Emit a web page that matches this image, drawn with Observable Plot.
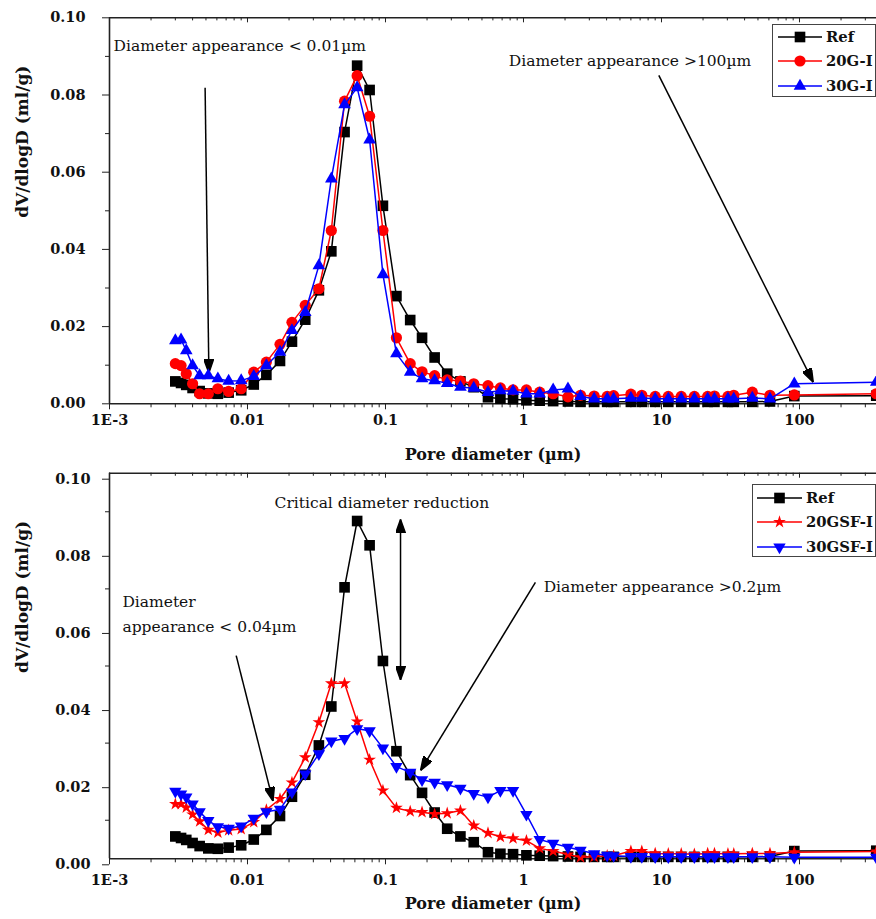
<!DOCTYPE html>
<html><head><meta charset="utf-8">
<script src="https://cdn.jsdelivr.net/npm/d3@7"></script>
<script src="https://cdn.jsdelivr.net/npm/@observablehq/plot@0.6"></script>
<style>
html,body{margin:0;padding:0;background:#fff;}
#page{position:relative;width:876px;height:919px;overflow:hidden;background:#fff;}
.chart{position:absolute;left:0;}
.chart svg{overflow:visible;}
.legend{position:absolute;border:1px solid #444;background:#fff;box-sizing:border-box;}
.legend svg{display:block;overflow:visible;}
</style></head>
<body><div id="page"></div>
<script>
// ---------- data ----------
const diameters = [0.0030,0.0033,0.0036,0.0040,0.0045,0.0052,0.0061,0.0073,0.0090,0.0111,0.0137,0.0172,0.0210,0.0262,0.0329,0.0405,0.0505,0.0623,0.0767,0.0958,0.120,0.151,0.184,0.227,0.280,0.349,0.436,0.553,0.680,0.840,1.05,1.31,1.64,2.10,2.59,3.25,4.04,4.50,6.00,7.20,9.00,11.2,13.9,17.3,21.6,24.2,30.3,33.4,45.5,61.1,91.7,360];
const ref   = [0.0058,0.0054,0.0049,0.0041,0.0033,0.0027,0.0026,0.0029,0.0035,0.0050,0.0075,0.0111,0.0161,0.0218,0.0294,0.0395,0.0704,0.0876,0.0813,0.0513,0.0279,0.0217,0.0171,0.0120,0.0078,0.0058,0.0043,0.0017,0.0013,0.0012,0.0009,0.0008,0.0007,0.0006,0.0005,0.0005,0.0005,0.0005,0.0005,0.0005,0.0005,0.0005,0.0005,0.0005,0.0005,0.0005,0.0005,0.0005,0.0005,0.0006,0.0020,0.0021];
const g20   = [0.0104,0.0099,0.0078,0.0052,0.0026,0.0026,0.0039,0.0032,0.0039,0.0082,0.0108,0.0154,0.0211,0.0255,0.0298,0.0449,0.0784,0.0850,0.0745,0.0449,0.0171,0.0104,0.0083,0.0073,0.0062,0.0059,0.0052,0.0047,0.0041,0.0036,0.0036,0.0030,0.0026,0.0018,0.0022,0.0020,0.0019,0.0021,0.0025,0.0022,0.0019,0.0019,0.0019,0.0019,0.0019,0.0020,0.0019,0.0022,0.0030,0.0022,0.0023,0.0026];
const g30   = [0.0164,0.0166,0.0138,0.0099,0.0073,0.0073,0.0065,0.0059,0.0060,0.0071,0.0099,0.0134,0.0190,0.0237,0.0358,0.0583,0.0775,0.0819,0.0684,0.0335,0.0130,0.0082,0.0065,0.0060,0.0053,0.0043,0.0041,0.0030,0.0034,0.0033,0.0026,0.0026,0.0036,0.0039,0.0019,0.0013,0.0013,0.0013,0.0015,0.0015,0.0013,0.0013,0.0013,0.0013,0.0013,0.0013,0.0013,0.0013,0.0015,0.0013,0.0052,0.0056];
const gsf20 = [0.0142,0.0142,0.0133,0.0115,0.0097,0.0075,0.0068,0.0074,0.0077,0.0095,0.0127,0.0155,0.0198,0.0263,0.0354,0.0455,0.0455,0.0356,0.0257,0.0177,0.0132,0.0123,0.0121,0.0116,0.0118,0.0125,0.0086,0.0067,0.0057,0.0053,0.0047,0.0027,0.0020,0.0011,0.0004,0.0005,0.0008,0.0008,0.0020,0.0020,0.0014,0.0013,0.0013,0.0012,0.0014,0.0014,0.0013,0.0013,0.0014,0.0014,0.0017,0.0019];
const gsf30 = [0.0175,0.0168,0.0160,0.0142,0.0122,0.0099,0.0083,0.0079,0.0085,0.0105,0.0122,0.0128,0.0173,0.0220,0.0272,0.0305,0.0312,0.0337,0.0332,0.0287,0.0239,0.0224,0.0205,0.0198,0.0192,0.0183,0.0169,0.0160,0.0177,0.0177,0.0115,0.0050,0.0040,0.0030,0.0022,0.0013,0.0009,0.0008,0.0006,0.0006,0.0005,0.0005,0.0005,0.0005,0.0005,0.0005,0.0005,0.0005,0.0005,0.0005,0.0004,0.0004];

const topNames = ["Ref", "20G-I", "30G-I"];
const bottomNames = ["Ref", "20GSF-I", "30GSF-I"];

const xMajor = [0.001, 0.01, 0.1, 1, 10, 100];
const xTickLabels = ["1E-3", "0.01", "0.1", "1", "10", "100"];
const yMajor = [0, 0.02, 0.04, 0.06, 0.08, 0.10];
const yTickLabels = ["0.00", "0.02", "0.04", "0.06", "0.08", "0.10"];
const yMinor = [0.01, 0.03, 0.05, 0.07, 0.09];
const xMinor = xMajor.flatMap(p => [2,3,4,5,6,7,8,9].map(k => k * p)).filter(v => v < 361);

const xTitle = "Pore diameter (µm)";
const yTitle = "dV/dlogD (ml/g)";

const topNotes = [
  {label: "Diameter appearance < 0.01µm", x: 0.00107, y: 0.0926},
  {label: "Diameter appearance >100µm", x: 0.782, y: 0.0889}
];
const topArrows = [
  {x1: 0.00493, y1: 0.0819, x2: 0.00525, y2: 0.0080},
  {x1: 9.56, y1: 0.0851, x2: 125.7, y2: 0.0056}
];
const bottomNotes = [
  {label: "Critical diameter reduction", x: 0.0157, y: 0.0922},
  {label: "Diameter", x: 0.00124, y: 0.0667},
  {label: "appearance < 0.04µm", x: 0.00124, y: 0.0600},
  {label: "Diameter appearance >0.2µm", x: 1.40, y: 0.0705}
];
const bottomArrows = [
  {x1: 0.00828, y1: 0.0527, x2: 0.0153, y2: 0.0150},
  {x1: 1.22, y1: 0.0717, x2: 0.1795, y2: 0.0229}
];
const bottomDoubleArrows = [
  {x1: 0.1285, y1: 0.0880, x2: 0.1285, y2: 0.0464}
];

// ---------- helpers ----------
const FONT = "'DejaVu Serif', serif";
const AXIS = "#222";
const xDomain = [0.001, 361.4];
const yDomain = [0, 0.1];

const triangleDown = {
  draw(context, size) {
    const y = -Math.sqrt(size / (Math.sqrt(3) * 3));
    context.moveTo(0, -y * 2);
    context.lineTo(-Math.sqrt(3) * y, y);
    context.lineTo(Math.sqrt(3) * y, y);
    context.closePath();
  }
};

function filledArrow(color, context) {
  const ns = "http://www.w3.org/2000/svg";
  const doc = (context && context.document) || document;
  const m = doc.createElementNS(ns, "marker");
  m.setAttribute("viewBox", "-14 -5 14 10");
  m.setAttribute("markerWidth", 14);
  m.setAttribute("markerHeight", 10);
  m.setAttribute("markerUnits", "userSpaceOnUse");
  m.setAttribute("orient", "auto-start-reverse");
  m.setAttribute("refX", 0);
  m.setAttribute("refY", 0);
  const p = doc.createElementNS(ns, "path");
  p.setAttribute("d", "M-14,-5L0,0L-14,5Z");
  p.setAttribute("fill", color);
  m.appendChild(p);
  return m;
}

const rows = diameters.map((d, i) => ({d, ref: ref[i], g20: g20[i], g30: g30[i], gsf20: gsf20[i], gsf30: gsf30[i]}));

const topSeries = [
  {key: "ref", name: topNames[0], color: "#000000", symbol: d3.symbolSquare, r: 6.0},
  {key: "g20", name: topNames[1], color: "#ff0000", symbol: d3.symbolCircle, r: 5.6},
  {key: "g30", name: topNames[2], color: "#0000ff", symbol: d3.symbolTriangle, r: 4.7}
];
const bottomSeries = [
  {key: "ref", name: bottomNames[0], color: "#000000", symbol: d3.symbolSquare, r: 6.0},
  {key: "gsf20", name: bottomNames[1], color: "#ff0000", symbol: d3.symbolStar, r: 4.0},
  {key: "gsf30", name: bottomNames[2], color: "#0000ff", symbol: triangleDown, r: 4.6}
];

function makeChart(cfg) {
  const marks = [
    Plot.ruleY([yDomain[0]], {stroke: AXIS, strokeWidth: 1.6}),
    Plot.ruleY([yDomain[1]], {stroke: AXIS, strokeWidth: 1.6}),
    Plot.ruleX([xDomain[0]], {stroke: AXIS, strokeWidth: 1.6}),
    Plot.ruleX(xMinor, {x: d => d, y1: yDomain[1], y2: yDomain[1] - 0.0008, stroke: AXIS, strokeWidth: 1}),
    Plot.ruleX(xMajor, {x: d => d, y1: yDomain[1], y2: yDomain[1] - 0.0013, stroke: AXIS, strokeWidth: 1}),
    Plot.axisX({ticks: xMinor, tickSize: 4, tickFormat: () => "", label: null, stroke: AXIS}),
    Plot.axisX({ticks: xMajor, tickSize: 6, tickPadding: cfg.xPad, label: null,
      tickFormat: d => xTickLabels[xMajor.indexOf(d)], fontWeight: "bold", fontSize: 14.5, stroke: AXIS, fill: "#111"}),
    Plot.axisY({ticks: yMinor, tickSize: 4, tickFormat: () => "", label: null, stroke: AXIS}),
    Plot.axisY({ticks: yMajor, tickSize: 7, tickPadding: cfg.yPad, label: null, dy: cfg.yDy,
      tickFormat: d => yTickLabels[yMajor.indexOf(d)], fontWeight: "bold", fontSize: 14.5, stroke: AXIS, fill: "#111"}),
    Plot.text([xTitle], {frameAnchor: "bottom", dy: cfg.xTitleDy, text: d => d, fontWeight: "bold", fontSize: 16, fill: "#111"}),
    Plot.text([yTitle], {frameAnchor: "left", dx: -87, dy: 7, rotate: -90, text: d => d, fontWeight: "bold", fontSize: 17, fill: "#111"}),
    Plot.text(cfg.notes, {x: "x", y: "y", text: "label", textAnchor: "start", fontSize: 15.5, fill: "#111"}),
    Plot.link(cfg.arrows, {x1: "x1", y1: "y1", x2: "x2", y2: "y2", stroke: "#000", strokeWidth: 1.5, markerEnd: filledArrow}),
  ];
  if (cfg.doubleArrows) marks.push(Plot.link(cfg.doubleArrows, {x1: "x1", y1: "y1", x2: "x2", y2: "y2", stroke: "#000", strokeWidth: 1.5, markerStart: filledArrow, markerEnd: filledArrow}));
  for (const s of cfg.series) {
    marks.push(Plot.line(rows, {x: "d", y: s.key, stroke: s.color, strokeWidth: 1.5}));
    marks.push(Plot.dot(rows, {x: "d", y: s.key, symbol: s.symbol, r: s.r, fill: s.color, stroke: "none"}));
  }
  return Plot.plot({
    width: 876, height: cfg.height,
    marginTop: cfg.marginTop, marginBottom: cfg.marginBottom, marginLeft: 109, marginRight: 0,
    x: {type: "log", domain: xDomain},
    y: {domain: yDomain},
    style: {fontFamily: FONT, fontSize: "14.5px", color: "#111", background: "transparent", overflow: "visible"},
    marks
  });
}

function makeLegend(series, box) {
  const div = document.createElement("div");
  div.className = "legend";
  Object.assign(div.style, {left: box.left + "px", top: box.top + "px", width: box.width + "px", height: box.height + "px"});
  const svg = d3.create("svg").attr("width", box.width - 2).attr("height", box.height - 2);
  series.forEach((s, i) => {
    const y = box.rows[i];
    svg.append("line").attr("x1", box.lx1).attr("x2", box.lx2).attr("y1", y).attr("y2", y)
      .attr("stroke", s.color).attr("stroke-width", 1.6);
    svg.append("path").attr("d", d3.symbol(s.symbol, Math.PI * s.r * s.r)())
      .attr("transform", `translate(${(box.lx1 + box.lx2) / 2},${y})`).attr("fill", s.color);
    svg.append("text").attr("x", box.tx).attr("y", y).attr("dy", "0.35em")
      .attr("font-family", FONT).attr("font-weight", "bold").attr("font-size", 14.8).attr("fill", "#111")
      .text(s.name);
  });
  div.appendChild(svg.node());
  return div;
}

const page = document.getElementById("page");

const top1 = document.createElement("div");
top1.className = "chart"; top1.style.top = "0px";
top1.appendChild(makeChart({height: 465, marginTop: 17.3, marginBottom: 61.7, series: topSeries,
  notes: topNotes, arrows: topArrows, xPad: 4.5, yPad: 17, yDy: 0, xTitleDy: 56}));
page.appendChild(top1);

const bot1 = document.createElement("div");
bot1.className = "chart"; bot1.style.top = "465px";
bot1.appendChild(makeChart({height: 454, marginTop: 7.7, marginBottom: 60.7, series: bottomSeries,
  notes: bottomNotes, arrows: bottomArrows, doubleArrows: bottomDoubleArrows, xPad: 9.5, yPad: 12, yDy: 6, xTitleDy: 50}));
page.appendChild(bot1);

page.appendChild(makeLegend(topSeries, {left: 772, top: 24, width: 104, height: 73, rows: [12, 36, 61], lx1: 5, lx2: 49, tx: 53}));
page.appendChild(makeLegend(bottomSeries, {left: 752, top: 484, width: 124, height: 73, rows: [13, 37, 62], lx1: 4, lx2: 49, tx: 53}));
</script></body></html>
